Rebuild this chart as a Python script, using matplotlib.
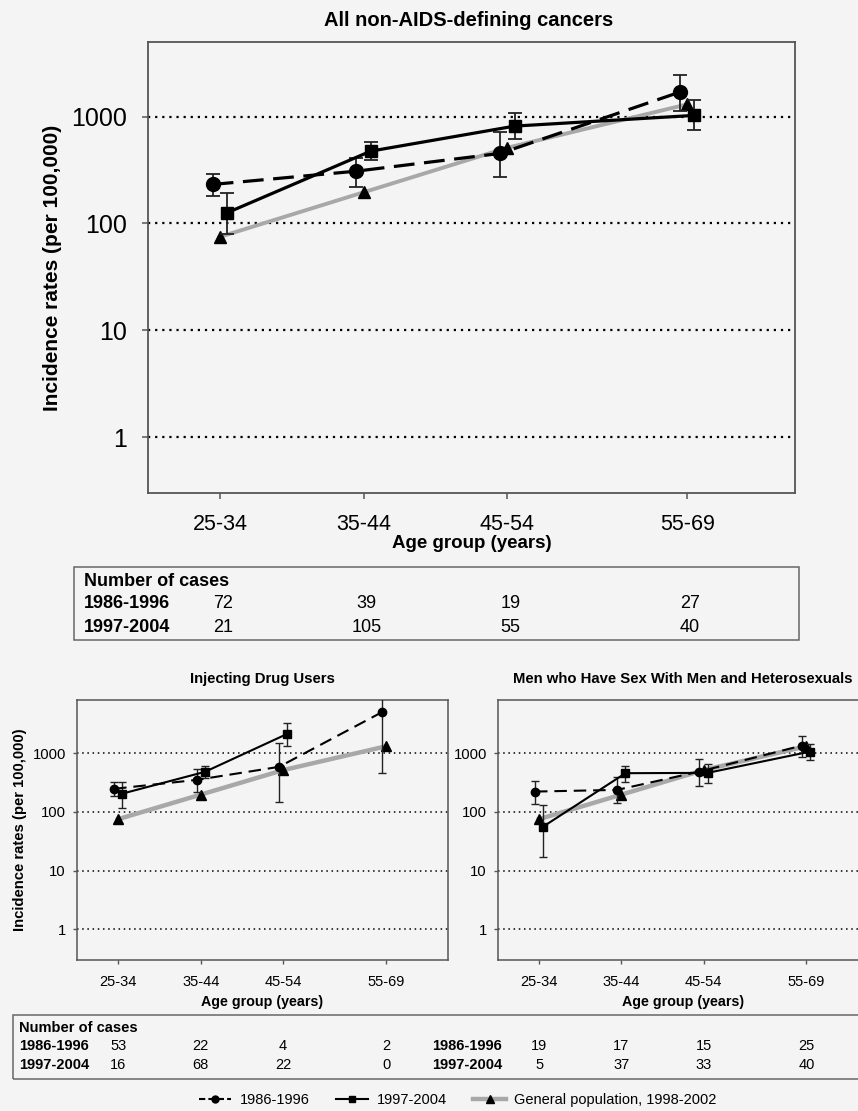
import numpy as np
import matplotlib
matplotlib.use('Agg')
import matplotlib.pyplot as plt
from matplotlib.lines import Line2D
from matplotlib.patches import Rectangle
from matplotlib.ticker import FixedLocator, NullLocator, FixedFormatter
from matplotlib.transforms import blended_transform_factory

plt.rcParams['font.family'] = ['Liberation Sans', 'DejaVu Sans']

# ---------------- data ----------------
age_groups = ['25-34', '35-44', '45-54', '55-69']
age_mid = [29.5, 39.5, 49.5, 62.0]
yticks = [1, 10, 100, 1000]
ytick_labels = ['1', '10', '100', '1000']

genpop = [75, 196, 512, 1304]

all_8696 = [232, 309, 453, 1700]
all_8696_lo = [180, 221, 275, 1130]
all_8696_hi = [290, 413, 717, 2480]
all_9704 = [126, 476, 816, 1028]
all_9704_lo = [79, 392, 622, 745]
all_9704_hi = [192, 578, 1075, 1422]

idu_8696 = [246, 349, 582, 4970]
idu_8696_lo = [189, 216, 149, 460]
idu_8696_hi = [319, 538, 1510, 15000]
idu_9704 = [204, 478, 2120, np.nan]
idu_9704_lo = [115, 378, 1330, np.nan]
idu_9704_hi = [327, 612, 3300, np.nan]

msm_8696 = [221, 236, 484, 1343]
msm_8696_lo = [135, 140, 276, 871]
msm_8696_hi = [340, 388, 807, 1985]
msm_9704 = [56, 454, 460, 1061]
msm_9704_lo = [17.3, 319, 315, 757]
msm_9704_hi = [131, 612, 655, 1435]

cases_all_8696 = [72, 39, 19, 27]
cases_all_9704 = [21, 105, 55, 40]
cases_idu_8696 = [53, 22, 4, 2]
cases_idu_9704 = [16, 68, 22, 0]
cases_msm_8696 = [19, 17, 15, 25]
cases_msm_9704 = [5, 37, 33, 40]

period_labels = ['1986-1996', '1997-2004']
legend_labels = ['1986-1996', '1997-2004', 'General population, 1998-2002']

# ---------------- style ----------------
BG = '#f4f4f4'
GREY = '#a8a8a8'
ECOL = '#222222'
SPINE = '#555555'
W, H = 858, 1111

fig = plt.figure(figsize=(W / 100, H / 100), dpi=100, facecolor=BG)


def box(l, t, r, b):
    return [l / W, 1 - b / H, (r - l) / W, (b - t) / H]


def fx(x):
    return x / W


def fy(y):
    return 1 - y / H


ax_top = fig.add_axes(box(148, 42, 795, 493))
ax_idu = fig.add_axes(box(77, 700, 448, 960))
ax_msm = fig.add_axes(box(498, 700, 868, 960))


def style(ax, big, ylim):
    ax.set_facecolor(BG)
    ax.set_yscale('log')
    ax.set_ylim(*ylim)
    ax.set_xlim(24.5, 69.5)
    ax.yaxis.set_major_locator(FixedLocator(yticks))
    ax.yaxis.set_major_formatter(FixedFormatter(ytick_labels))
    ax.yaxis.set_minor_locator(NullLocator())
    ax.set_xticks(age_mid)
    ax.set_xticklabels(age_groups)
    for s in ax.spines.values():
        s.set_color(SPINE)
        s.set_linewidth(1.3 if big else 1.1)
    ax.grid(True, axis='y', linestyle=(0, (1, 2.2)) if big else (0, (1, 2.4)),
            color='black', linewidth=1.6 if big else 1.1)
    ax.set_axisbelow(True)
    if big:
        ax.tick_params(axis='y', direction='out', length=4.3, width=1.1, color=SPINE,
                       pad=10.8, labelsize=18)
        ax.tick_params(axis='x', direction='out', length=4.3, width=1.1, color=SPINE,
                       pad=10.8, labelsize=15.5)
    else:
        ax.tick_params(axis='y', direction='out', length=3, width=1.0, color=SPINE,
                       pad=5, labelsize=10.7)
        ax.tick_params(axis='x', direction='out', length=3, width=1.0, color=SPINE,
                       pad=7.6, labelsize=10.5)


def draw(ax, s1, s1lo, s1hi, s2, s2lo, s2hi, gp, big):
    x = np.asarray(age_mid, float)
    if big:
        lw, glw, ms_c, ms_s, ms_t, cap, elw, dash = 2.3, 2.8, 10, 8.5, 9, 4.7, 1.3, (6.5, 3)
    else:
        lw, glw, ms_c, ms_s, ms_t, cap, elw, dash = 1.5, 3.2, 6, 5.5, 6.5, 2.8, 1.0, (6, 3.3)
    off = 0.5
    ax.plot(x, gp, color=GREY, lw=glw, marker='^', ms=ms_t, mfc='k', mec='k', zorder=3)
    series = [(s1, s1lo, s1hi, -off, 'o', ms_c, True),
              (s2, s2lo, s2hi, off, 's', ms_s, False)]
    for vals, lo, hi, dx, mk, ms, dashed in series:
        v = np.asarray(vals, float)
        l = np.asarray(lo, float)
        h = np.asarray(hi, float)
        m = np.isfinite(v)
        ax.errorbar(x[m] + dx, v[m], yerr=[v[m] - l[m], h[m] - v[m]], fmt='none',
                    ecolor=ECOL, elinewidth=elw, capsize=cap, capthick=elw, zorder=4)
        line, = ax.plot(x[m] + dx, v[m], color='k', lw=lw, marker=mk, ms=ms, zorder=5)
        if dashed:
            line.set_dashes(dash)


# ---------------- top panel ----------------
style(ax_top, True, (0.3, 5000))
draw(ax_top, all_8696, all_8696_lo, all_8696_hi, all_9704, all_9704_lo, all_9704_hi,
     genpop, True)
ax_top.set_ylabel('Incidence rates (per 100,000)', fontsize=15, fontweight='bold')
ax_top.yaxis.set_label_coords(-0.133, 0.5)
ax_top.set_xlabel('Age group (years)', fontsize=13.5, fontweight='bold')
ax_top.xaxis.set_label_coords(0.5, -0.093)
fig.text(fx(469), fy(21), 'All non-AIDS-defining cancers', fontsize=14.5,
         fontweight='bold', ha='center', va='center')

# top table
fig.patches.append(Rectangle((fx(74), fy(640)), (799 - 74) / W, (640 - 567) / H,
                             transform=fig.transFigure, fill=False, edgecolor='#666666',
                             linewidth=1.1))
fig.text(fx(84), fy(582), 'Number of cases', fontsize=13, fontweight='bold', va='center')
tr_top = blended_transform_factory(ax_top.transData, fig.transFigure)
for row_y, lab, vals in [(604, period_labels[0], cases_all_8696),
                         (627, period_labels[1], cases_all_9704)]:
    fig.text(fx(84), fy(row_y), lab, fontsize=13, fontweight='bold', va='center')
    for xm, v in zip(age_mid, vals):
        ax_top.text(xm + 0.2, fy(row_y), str(v), transform=tr_top, fontsize=13,
                    ha='center', va='center')

# ---------------- lower panels ----------------
style(ax_idu, False, (0.3, 8000))
draw(ax_idu, idu_8696, idu_8696_lo, idu_8696_hi, idu_9704, idu_9704_lo, idu_9704_hi,
     genpop, False)
ax_idu.set_title('Injecting Drug Users', fontsize=10.7, fontweight='bold', pad=12)
ax_idu.set_ylabel('Incidence rates (per 100,000)', fontsize=10.7, fontweight='bold')
ax_idu.yaxis.set_label_coords(-0.1356, 0.5)

style(ax_msm, False, (0.3, 8000))
draw(ax_msm, msm_8696, msm_8696_lo, msm_8696_hi, msm_9704, msm_9704_lo, msm_9704_hi,
     genpop, False)
ax_msm.set_title('Men who Have Sex With Men and Heterosexuals', fontsize=10.7,
                 fontweight='bold', pad=12)

for ax in (ax_idu, ax_msm):
    ax.set_xlabel('Age group (years)', fontsize=10.3, fontweight='bold')
    ax.xaxis.set_label_coords(0.5, -0.135)

# lower table
fig.patches.append(Rectangle((fx(13), fy(1079)), (880 - 13) / W, (1079 - 1015) / H,
                             transform=fig.transFigure, fill=False, edgecolor='#666666',
                             linewidth=1.1))
fig.text(fx(19), fy(1028), 'Number of cases', fontsize=10.5, fontweight='bold', va='center')
for ax, lab_x, c1, c2 in [(ax_idu, 19, cases_idu_8696, cases_idu_9704),
                          (ax_msm, 432, cases_msm_8696, cases_msm_9704)]:
    tr = blended_transform_factory(ax.transData, fig.transFigure)
    for row_y, lab, vals in [(1046, period_labels[0], c1), (1065, period_labels[1], c2)]:
        fig.text(fx(lab_x), fy(row_y), lab, fontsize=10.5, fontweight='bold', va='center')
        for xm, v in zip(age_mid, vals):
            ax.text(xm, fy(row_y), str(v), transform=tr, fontsize=10.5,
                    ha='center', va='center')

# legend
h1 = Line2D([], [], color='k', lw=1.5, marker='o', ms=5, dashes=(3, 1.5))
h2 = Line2D([], [], color='k', lw=1.5, marker='s', ms=5)
h3 = Line2D([], [], color=GREY, lw=3.2, marker='^', ms=5.5, mfc='k', mec='k')
fig.legend([h1, h2, h3], legend_labels, loc='center', bbox_to_anchor=(fx(458), fy(1100)),
           ncol=3, frameon=False, fontsize=10.5, handlelength=2.2, handletextpad=0.6,
           columnspacing=1.8)

fig.savefig('out.png', dpi=100, facecolor=BG)
